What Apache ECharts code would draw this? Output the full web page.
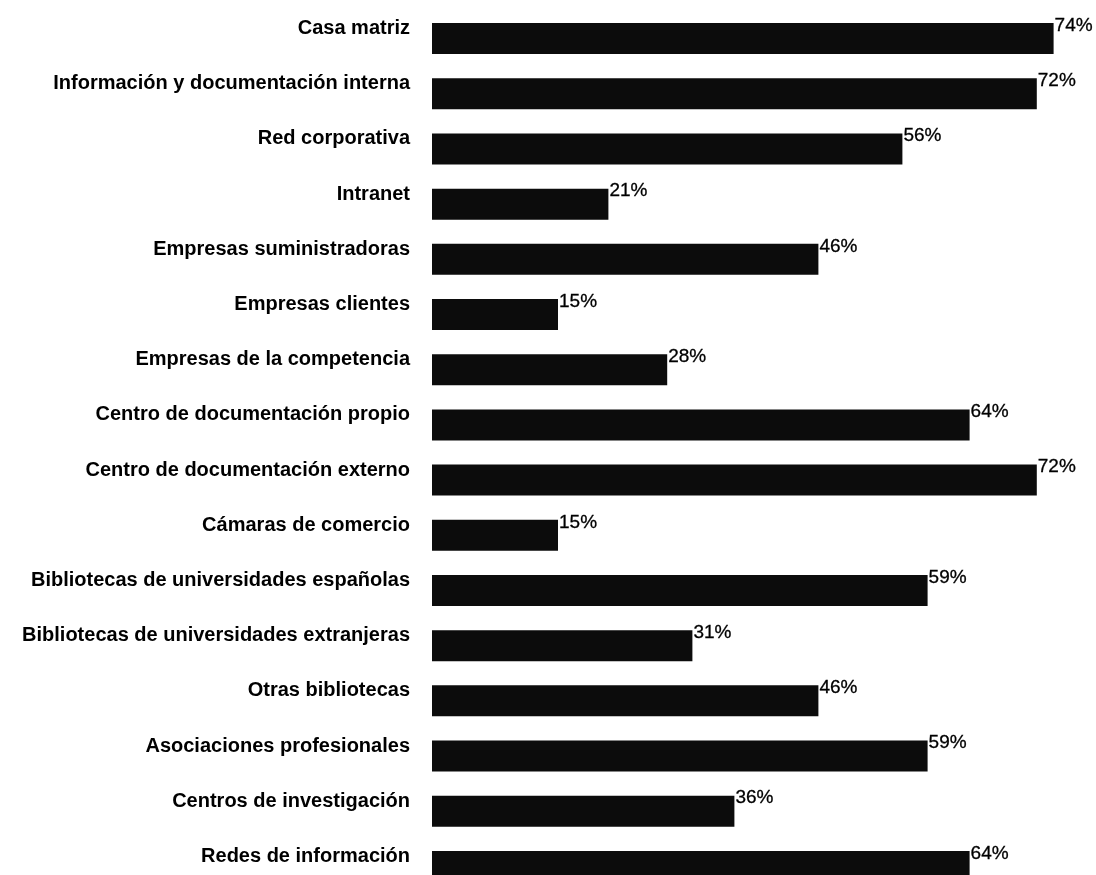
<!DOCTYPE html>
<html>
<head>
<meta charset="utf-8">
<script src="https://cdn.jsdelivr.net/npm/echarts@6/dist/echarts.min.js"></script>
<style>
  html, body { margin: 0; padding: 0; background: #ffffff; overflow: hidden; }
  /* the chart runs a little past the lower edge of the page, so the last row is cut */
  #chart { width: 1096px; height: 894px; }
</style>
</head>
<body>
<div id="chart"></div>
<script>
// Fuentes de información consultadas (porcentaje de empresas)
const categories = [
  'Casa matriz',
  'Información y documentación interna',
  'Red corporativa',
  'Intranet',
  'Empresas suministradoras',
  'Empresas clientes',
  'Empresas de la competencia',
  'Centro de documentación propio',
  'Centro de documentación externo',
  'Cámaras de comercio',
  'Bibliotecas de universidades españolas',
  'Bibliotecas de universidades extranjeras',
  'Otras bibliotecas',
  'Asociaciones profesionales',
  'Centros de investigación',
  'Redes de información'
];
const values = [74, 72, 56, 21, 46, 15, 28, 64, 72, 15, 59, 31, 46, 59, 36, 64];

const chart = echarts.init(document.getElementById('chart'));
chart.setOption({
  backgroundColor: '#ffffff',
  animation: false,
  grid: { left: 432, right: 34, top: 11, bottom: 0, containLabel: false },
  xAxis: {
    type: 'value',
    min: 0,
    max: 75,
    show: false
  },
  yAxis: {
    type: 'category',
    data: categories,
    inverse: true,
    axisLine: { show: false },
    axisTick: { show: false },
    splitLine: { show: false },
    axisLabel: {
      margin: 22,
      color: '#000000',
      fontFamily: 'Liberation Sans, Arial, sans-serif',
      fontWeight: 'bold',
      fontSize: 20,
      verticalAlign: 'bottom',
      padding: [0, 0, 0, 0]
    }
  },
  series: [{
    type: 'bar',
    data: values,
    barWidth: 31,
    itemStyle: { color: '#0c0c0c' },
    label: {
      show: true,
      position: 'right',
      distance: 1,
      offset: [0, -13],
      formatter: '{c}%',
      color: '#000000',
      fontFamily: 'Liberation Sans, Arial, sans-serif',
      fontSize: 19,
      textBorderColor: '#000000',
      textBorderWidth: 0.3
    }
  }]
});
</script>
</body>
</html>
